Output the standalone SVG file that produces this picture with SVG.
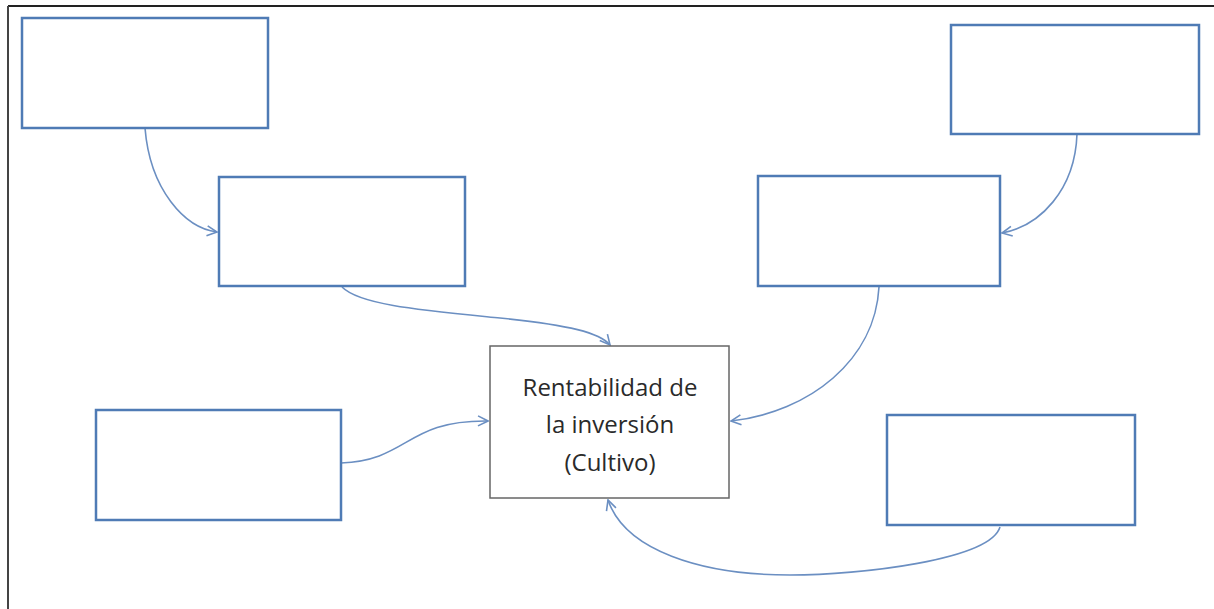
<svg xmlns="http://www.w3.org/2000/svg" width="1214" height="609" viewBox="0 0 1214 609">
  <defs>
    <style>
      .box { fill: #ffffff; stroke: #4f7bb5; stroke-width: 2.5; }
      .center { fill: #ffffff; stroke: #666666; stroke-width: 1.5; }
      .conn { fill: none; stroke: #6b8fc2; stroke-width: 1.6; marker-end: url(#arrow); }
      .label { font-family: "Open Sans", "Liberation Sans", sans-serif; font-size: 24px; fill: #2a2a2a; text-anchor: middle; }
    </style>
    <marker id="arrow" viewBox="0 0 12 12" refX="11" refY="6" markerWidth="12" markerHeight="12" markerUnits="userSpaceOnUse" orient="auto">
      <path d="M1,1 L11,6 L1,11" fill="none" stroke="#6b8fc2" stroke-width="1.6"/>
    </marker>
  </defs>
  <rect x="0" y="0" width="1214" height="609" fill="#ffffff"/>
  <g id="frame">
    <line x1="8" y1="6" x2="1214" y2="6" stroke="#222222" stroke-width="2"/>
    <line x1="8" y1="6" x2="8" y2="609" stroke="#444444" stroke-width="2"/>
  </g>
  <g id="connectors">
    <path class="conn" d="M145,128 C150,190 185,228 217,232"/>
    <path class="conn" d="M342,287 C360,305 420,310 500,318 C570,325 600,333 610,345"/>
    <path class="conn" d="M1077,134 C1075,190 1040,226 1002,233"/>
    <path class="conn" d="M879,287 C875,360 810,412 731,421"/>
    <path class="conn" d="M341,463 C410,460 405,420 488,421"/>
    <path class="conn" d="M1000,527 C990,560 860,575 790,575 C700,575 625,550 608,500"/>
  </g>
  <g id="node-a"><rect class="box" x="22" y="18" width="246" height="110"/></g>
  <g id="node-b"><rect class="box" x="219" y="177" width="246" height="109"/></g>
  <g id="node-c"><rect class="box" x="951" y="25" width="248" height="109"/></g>
  <g id="node-d"><rect class="box" x="758" y="176" width="242" height="110"/></g>
  <g id="node-e"><rect class="box" x="96" y="410" width="245" height="110"/></g>
  <g id="node-f"><rect class="box" x="887" y="415" width="248" height="110"/></g>
  <g id="node-center">
    <rect class="center" x="490" y="346" width="239" height="152"/>
    <text class="label" x="610" y="396">Rentabilidad de</text>
    <text class="label" x="610" y="433">la inversión</text>
    <text class="label" x="610" y="471">(Cultivo)</text>
  </g>
</svg>
